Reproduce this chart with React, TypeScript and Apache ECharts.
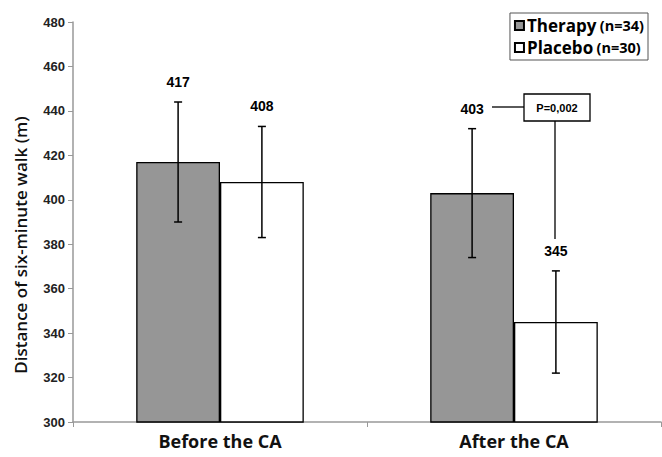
import React, { useEffect, useRef } from "react";
import * as echarts from "echarts";

const categories = ["Before the CA", "After the CA"];
const seriesNames = ["Therapy", "Placebo"];
const sampleSizes = ["(n=34)", "(n=30)"];
const therapyMeans = [417, 403];
const placeboMeans = [408, 345];
const therapyErr = [27, 29];
const placeboErr = [25, 23];
const yTicks = { min: 300, max: 480, interval: 20 };
const yTitle = "Distance of six-minute walk (m)";
const pValueText = "P=0,002";

const BAR_FRACTION = 0.57;

function errorSeries(name: string, means: number[], errs: number[], sign: number) {
  return {
    type: "custom",
    name: name + " error",
    z: 5,
    silent: true,
    encode: { x: 0, y: [1, 2] },
    data: means.map((m, i) => [i, m - errs[i], m + errs[i], m]),
    renderItem: (params: any, api: any) => {
      const cat = api.value(0);
      const lo = api.value(1);
      const hi = api.value(2);
      const mean = api.value(3);
      const bandW = api.size([1, 0])[0];
      const off = (bandW * BAR_FRACTION) / 4 * sign;
      const top = api.coord([cat, hi]);
      const bot = api.coord([cat, lo]);
      const x = top[0] + off;
      const cap = 4;
      const st = { stroke: "#000", lineWidth: 1.5 };
      return {
        type: "group",
        children: [
          { type: "line", shape: { x1: x, y1: top[1], x2: x, y2: bot[1] }, style: st },
          { type: "line", shape: { x1: x - cap, y1: top[1], x2: x + cap, y2: top[1] }, style: st },
          { type: "line", shape: { x1: x - cap, y1: bot[1], x2: x + cap, y2: bot[1] }, style: st },
          {
            type: "text",
            style: {
              text: String(mean),
              x: x,
              y: top[1] - 20,
              align: "center",
              verticalAlign: "middle",
              fontFamily: "Liberation Sans",
              fontWeight: "bold",
              fontSize: 14,
              fill: "#000",
            },
          },
        ],
      };
    },
  };
}

export default function App() {
  const ref = useRef<HTMLDivElement>(null);
  useEffect(() => {
    if (!ref.current) return;
    const chart = echarts.init(ref.current, null, { renderer: "svg" });
    const rich = {
      a: { fontFamily: "Open Sans", fontWeight: "bold", fontSize: 17, color: "#000" },
      b: { fontFamily: "Open Sans", fontWeight: "bold", fontSize: 14.5, color: "#000" },
    };
    chart.setOption({
      animation: false,
      backgroundColor: "#fff",
      grid: { left: 73, right: 1, top: 22, bottom: 35 },
      legend: {
        data: seriesNames,
        orient: "vertical",
        right: 14,
        top: 13,
        itemWidth: 9,
        itemHeight: 9,
        itemGap: 5,
        padding: [4, 4, 4, 4],
        borderColor: "#555",
        borderWidth: 1,
        backgroundColor: "#fff",
        icon: "rect",
        selectedMode: false,
        formatter: (name: string) => `{a|${name}} {b|${sampleSizes[seriesNames.indexOf(name)]}}`,
        textStyle: { rich, padding: [0, 0, 0, -2] },
      },
      xAxis: {
        type: "category",
        data: categories,
        axisLine: { lineStyle: { color: "#999", width: 1.5 } },
        axisTick: { show: true, length: 5, lineStyle: { color: "#999" } },
        axisLabel: {
          margin: 10,
          fontFamily: "Open Sans",
          fontWeight: "bold",
          fontSize: 18,
          color: "#111",
        },
      },
      yAxis: {
        type: "value",
        min: yTicks.min,
        max: yTicks.max,
        interval: yTicks.interval,
        axisLine: { show: true, lineStyle: { color: "#999", width: 1.5 } },
        axisTick: { show: true, length: 5, lineStyle: { color: "#999" } },
        splitLine: { show: false },
        axisLabel: {
          margin: 8,
          fontFamily: "Liberation Sans",
          fontWeight: "bold",
          fontSize: 13,
          color: "#222",
        },
      },
      series: [
        {
          type: "bar",
          name: seriesNames[0],
          data: therapyMeans,
          barGap: "0%",
          barCategoryGap: "43%",
          itemStyle: { color: "#969696", borderColor: "#000", borderWidth: 1.3 },
        },
        {
          type: "bar",
          name: seriesNames[1],
          data: placeboMeans,
          itemStyle: { color: "#fff", borderColor: "#000", borderWidth: 1.3 },
        },
        errorSeries(seriesNames[0], therapyMeans, therapyErr, -1),
        errorSeries(seriesNames[1], placeboMeans, placeboErr, 1),
      ],
      graphic: [
        {
          type: "text",
          x: 20,
          y: 245,
          rotation: Math.PI / 2,
          style: {
            text: yTitle,
            align: "center",
            verticalAlign: "middle",
            fontFamily: "Open Sans",
            fontWeight: 600,
            fontSize: 17,
            fill: "#111",
          },
        },
        { type: "line", shape: { x1: 492, y1: 107, x2: 524, y2: 107 }, style: { stroke: "#000", lineWidth: 1.3 }, z: 10 },
        { type: "line", shape: { x1: 555, y1: 121, x2: 555, y2: 239 }, style: { stroke: "#000", lineWidth: 1.3 }, z: 10 },
        {
          type: "rect",
          shape: { x: 524, y: 94, width: 66, height: 27 },
          style: { fill: "#fff", stroke: "#000", lineWidth: 1.3 },
          z: 10,
        },
        {
          type: "text",
          x: 557,
          y: 108,
          style: {
            text: pValueText,
            align: "center",
            verticalAlign: "middle",
            fontFamily: "Liberation Sans",
            fontWeight: "bold",
            fontSize: 11,
            fill: "#000",
          },
          z: 11,
        },
      ],
    });
    return () => chart.dispose();
  }, []);
  return <div ref={ref} style={{ width: 662, height: 457, position: "fixed", left: 0, top: 0 }} />;
}
